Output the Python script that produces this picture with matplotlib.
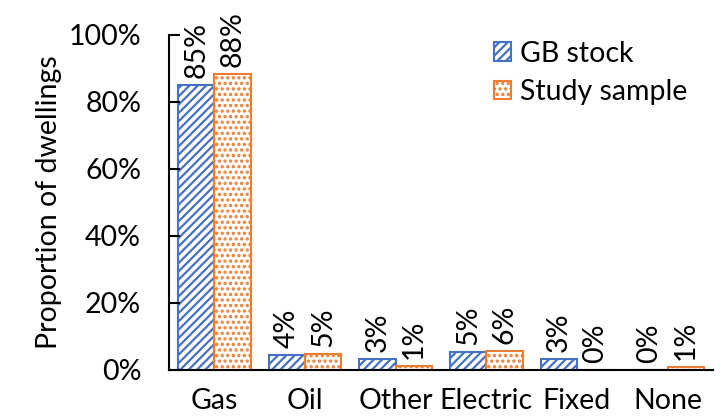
import matplotlib
matplotlib.use("Agg")
import matplotlib.pyplot as plt
import numpy as np

categories = ["Gas", "Oil", "Other", "Electric", "Fixed", "None"]
gb_stock = [85.0, 4.4, 3.3, 5.4, 3.2, 0.0]
study_sample = [88.4, 4.8, 1.2, 5.6, 0.0, 1.0]
gb_labels = ["85%", "4%", "3%", "5%", "3%", "0%"]
study_labels = ["88%", "5%", "1%", "6%", "0%", "1%"]
yticks = [0, 20, 40, 60, 80, 100]
ytick_labels = ["0%", "20%", "40%", "60%", "80%", "100%"]

plt.rcParams['font.family'] = ['Lato', 'DejaVu Sans']
plt.rcParams['hatch.linewidth'] = 1.6

blue = "#4472C4"
orange = "#ED7D31"

fig = plt.figure(figsize=(7.22, 4.16), dpi=100)
ax = fig.add_axes([0.234, 0.1106, 0.7535, 0.8053])

x = np.arange(len(categories))
w = 0.40
b1 = ax.bar(x - w/2, gb_stock, w, facecolor="white", edgecolor=blue, hatch="////",
            linewidth=1.5, label="GB stock")
b2 = ax.bar(x + w/2, study_sample, w, facecolor="white", edgecolor=orange, hatch="...",
            linewidth=1.5, label="Study sample")

fs = 20.5
for xi, v, lab in zip(x - w/2, gb_stock, gb_labels):
    ax.annotate(lab, (xi, v), xytext=(0, 5), textcoords="offset points",
                rotation=90, ha="center", va="bottom", fontsize=fs)
for xi, v, lab in zip(x + w/2, study_sample, study_labels):
    ax.annotate(lab, (xi, v), xytext=(0, 5), textcoords="offset points",
                rotation=90, ha="center", va="bottom", fontsize=fs)

ax.set_xlim(-0.5, len(categories) - 0.5)
ax.set_ylim(0, 100)
ax.set_yticks(yticks)
ax.set_yticklabels(ytick_labels, fontsize=fs)
ax.set_xticks(x)
ax.set_xticklabels(categories, fontsize=fs)
ax.tick_params(axis='y', direction='in', length=8, width=1.5, pad=20)
ax.tick_params(axis='x', length=0, pad=13)
for s in ['top', 'right']:
    ax.spines[s].set_visible(False)
for s in ['left', 'bottom']:
    ax.spines[s].set_linewidth(1.5)
ax.set_ylabel("Proportion of dwellings", fontsize=fs, labelpad=5)

ax.legend(loc="upper right", bbox_to_anchor=(1.0, 1.06), frameon=False, fontsize=fs,
          handlelength=0.6, handleheight=0.6, handletextpad=0.3, labelspacing=0.45)

fig.savefig("out.png", dpi=100)
